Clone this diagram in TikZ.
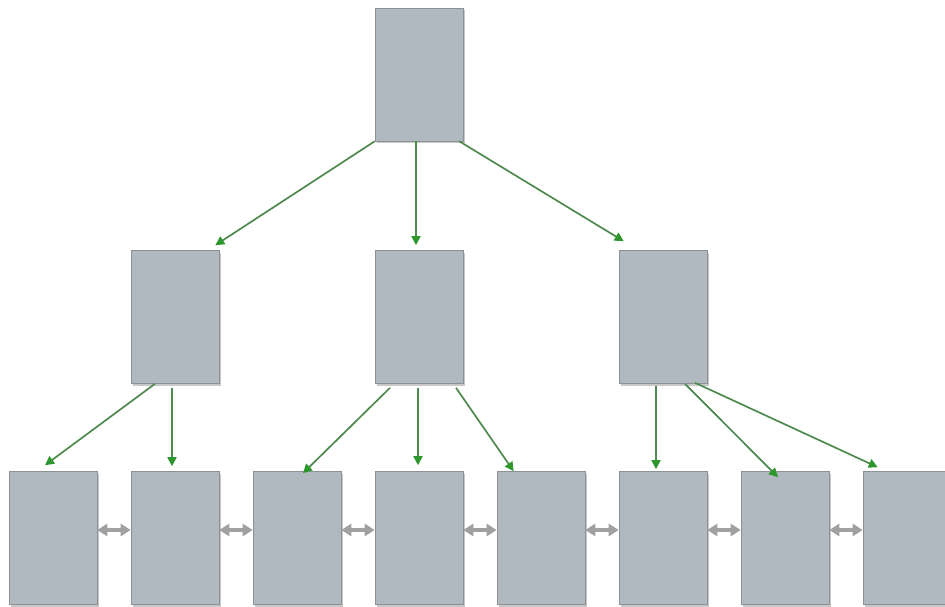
\documentclass[tikz,border=0pt]{standalone}
\usetikzlibrary{arrows.meta,shadows}
\definecolor{boxfill}{RGB}{176,185,192}
\definecolor{boxline}{RGB}{140,145,150}
\definecolor{linkgreen}{RGB}{78,138,78}
\definecolor{tipgreen}{RGB}{45,150,45}
\definecolor{sibgrey}{RGB}{158,160,162}
\tikzset{
  pagebox/.style={draw=boxline, line width=0.6pt, fill=boxfill, minimum width=88pt, minimum height=133pt, inner sep=0pt,
    drop shadow={shadow xshift=1.5pt, shadow yshift=-2pt, opacity=0.4, fill=black!55}},
  childlink/.style={draw=linkgreen, line width=1.7pt, -{Triangle[length=9pt,width=9pt,color=tipgreen]}},
  siblink/.style={draw=sibgrey, line width=3.2pt, {Triangle[length=10pt,width=12pt]}-{Triangle[length=10pt,width=12pt]}}
}
\begin{document}
\begin{tikzpicture}[x=1pt,y=-1pt]
\useasboundingbox (0,0) rectangle (945,607);
\node[pagebox] (t) at (419,74.5) {};
\node[pagebox] (m1) at (175,317) {};
\node[pagebox] (m2) at (419,317) {};
\node[pagebox] (m3) at (663,317) {};
\node[pagebox] (b1) at (53,538) {};
\node[pagebox] (b2) at (175,538) {};
\node[pagebox] (b3) at (297,538) {};
\node[pagebox] (b4) at (419,538) {};
\node[pagebox] (b5) at (541,538) {};
\node[pagebox] (b6) at (663,538) {};
\node[pagebox] (b7) at (785,538) {};
\node[pagebox] (b8) at (907,538) {};
% top level
\draw[childlink] (t.south west) -- ([xshift=-4pt,yshift=5pt]m1.north east);
\draw[childlink] ([xshift=-3pt]t.south) -- ([xshift=-3pt,yshift=5pt]m2.north);
\draw[childlink] ([xshift=-4pt]t.south east) -- ([xshift=5pt,yshift=9pt]m3.north west);
% middle left
\draw[childlink] ([xshift=-20pt]m1.south) -- ([xshift=-8pt,yshift=6pt]b1.north);
\draw[childlink] ([xshift=-3pt,yshift=-4pt]m1.south) -- ([xshift=-3pt,yshift=5pt]b2.north);
% middle centre
\draw[childlink] ([xshift=-29pt,yshift=-4pt]m2.south) -- ([xshift=6pt,yshift=-2pt]b3.north);
\draw[childlink] ([xshift=-1pt,yshift=-4pt]m2.south) -- ([xshift=-1pt,yshift=6pt]b4.north);
\draw[childlink] ([xshift=37pt,yshift=-4pt]m2.south) -- ([xshift=17pt]b5.north west);
% middle right
\draw[childlink] ([xshift=-7pt,yshift=-2pt]m3.south) -- ([xshift=-7pt,yshift=2pt]b6.north);
\draw[childlink] ([xshift=22pt]m3.south) -- ([xshift=-7pt,yshift=-6pt]b7.north);
\draw[childlink] ([xshift=32pt,yshift=1pt]m3.south) -- ([xshift=15pt,yshift=4pt]b8.north west);
% sibling links
\foreach \a/\b in {b1/b2,b2/b3,b3/b4,b4/b5,b5/b6,b6/b7,b7/b8}
  \draw[siblink] ([yshift=8pt]\a.east) -- ([yshift=8pt]\b.west);
\end{tikzpicture}
\end{document}
